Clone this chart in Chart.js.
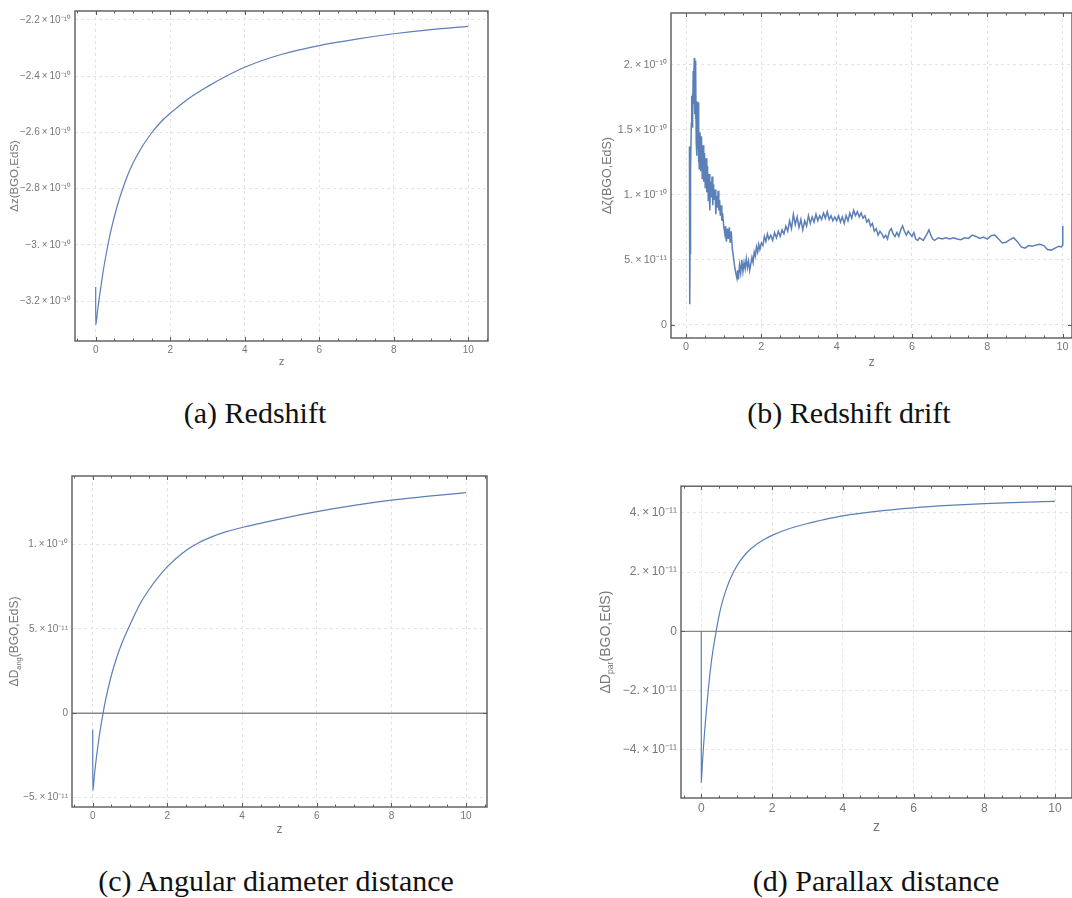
<!DOCTYPE html>
<html>
<head>
<meta charset="utf-8">
<script src="https://cdn.jsdelivr.net/npm/chart.js@4.4.1/dist/chart.umd.min.js"></script>
<style>
  body { margin: 0; background: #fff; width: 1072px; height: 898px; position: relative; overflow: hidden; }
  canvas { position: absolute; }
  .cap { position: absolute; width: 500px; text-align: center; font-family: "Liberation Serif", serif; font-size: 30px; line-height: 34px; color: #111; }
</style>
</head>
<body>
<canvas id="chartA" width="500" height="370" style="left:0px;top:0px"></canvas>
<canvas id="chartB" width="482" height="370" style="left:590px;top:0px"></canvas>
<canvas id="chartC" width="500" height="380" style="left:0px;top:465px"></canvas>
<canvas id="chartD" width="482" height="370" style="left:590px;top:475px"></canvas>

<div class="cap" style="left:5px;top:396px">(a) Redshift</div>
<div class="cap" style="left:599px;top:396px">(b) Redshift drift</div>
<div class="cap" style="left:26px;top:864px">(c) Angular diameter distance</div>
<div class="cap" style="left:626px;top:864px">(d) Parallax distance</div>

<script>
// x axis (redshift z) ticks, shared by all panels
const zTicks = [0, 2, 4, 6, 8, 10];

// (a) redshift difference, units of 1e-10
const zRed = [0, 0.001, 0.05, 0.1, 0.15, 0.2, 0.3, 0.4, 0.5, 0.6, 0.7, 0.85, 1.0, 1.25, 1.5, 1.75, 2, 2.5, 3, 3.5, 4, 5, 6, 7, 8, 9, 10];
const dRed = [-3.15, -3.285, -3.235, -3.185, -3.14, -3.095, -3.02, -2.955, -2.90, -2.852, -2.81, -2.755, -2.71, -2.65, -2.602, -2.563, -2.532, -2.479, -2.437, -2.400, -2.368, -2.322, -2.291, -2.268, -2.249, -2.234, -2.2225];
const yTicksA = [-3.2, -3.0, -2.8, -2.6, -2.4, -2.2];
const yLabelsA = ['\u22123.2\u2009\u00d7\u200910\u207b\u00b9\u2070', '\u22123.\u2009\u00d7\u200910\u207b\u00b9\u2070', '\u22122.8\u2009\u00d7\u200910\u207b\u00b9\u2070', '\u22122.6\u2009\u00d7\u200910\u207b\u00b9\u2070', '\u22122.4\u2009\u00d7\u200910\u207b\u00b9\u2070', '\u22122.2\u2009\u00d7\u200910\u207b\u00b9\u2070'];

// (b) redshift drift difference, units of 1e-10
const zDrift = [0.09, 0.095, 0.10, 0.105, 0.11, 0.115, 0.12, 0.13, 0.14, 0.15, 0.16, 0.17, 0.18, 0.19, 0.20, 0.21, 0.22, 0.23, 0.24, 0.25, 0.26, 0.27, 0.28, 0.29, 0.30, 0.31, 0.32, 0.33, 0.34, 0.35, 0.37, 0.39, 0.41, 0.43, 0.45, 0.47, 0.49, 0.51, 0.53, 0.55, 0.57, 0.59, 0.61, 0.63, 0.65, 0.67, 0.69, 0.71, 0.73, 0.75, 0.77, 0.79, 0.81, 0.83, 0.85, 0.87, 0.89, 0.91, 0.93, 0.95, 0.97, 1.00, 1.03, 1.05, 1.07, 1.10, 1.12, 1.15, 1.17, 1.20, 1.23, 1.26, 1.29, 1.32, 1.35, 1.37, 1.39, 1.42, 1.45, 1.48, 1.51, 1.54, 1.57, 1.60, 1.63, 1.66, 1.69, 1.72, 1.75, 1.78, 1.81, 1.84, 1.87, 1.90, 1.93, 1.96, 2.00, 2.04, 2.08, 2.12, 2.16, 2.20, 2.25, 2.30, 2.35, 2.40, 2.45, 2.50, 2.55, 2.60, 2.65, 2.70, 2.75, 2.80, 2.85, 2.90, 2.95, 3.00, 3.05, 3.10, 3.15, 3.20, 3.25, 3.30, 3.35, 3.40, 3.45, 3.50, 3.55, 3.60, 3.65, 3.70, 3.75, 3.80, 3.85, 3.90, 3.95, 4.00, 4.05, 4.10, 4.15, 4.20, 4.25, 4.30, 4.35, 4.40, 4.45, 4.50, 4.55, 4.60, 4.65, 4.70, 4.75, 4.80, 4.85, 4.90, 4.95, 5.00, 5.05, 5.10, 5.15, 5.20, 5.25, 5.30, 5.35, 5.40, 5.45, 5.50, 5.55, 5.60, 5.65, 5.70, 5.75, 5.80, 5.85, 5.90, 5.95, 6.00, 6.05, 6.10, 6.15, 6.20, 6.30, 6.40, 6.45, 6.50, 6.55, 6.60, 6.70, 6.80, 6.90, 7.00, 7.10, 7.20, 7.30, 7.40, 7.50, 7.60, 7.70, 7.80, 7.90, 8.00, 8.10, 8.20, 8.30, 8.40, 8.50, 8.60, 8.70, 8.80, 8.90, 9.00, 9.10, 9.20, 9.30, 9.40, 9.50, 9.60, 9.70, 9.80, 9.90, 9.97, 10.00, 10.005];
const dDrift = [1.37, 1.33, 0.16, 0.55, 1.05, 0.78, 1.30, 1.18, 1.55, 1.76, 1.52, 1.78, 1.60, 1.95, 1.70, 1.92, 2.05, 1.62, 2.03, 1.58, 1.98, 1.40, 1.72, 1.30, 1.62, 1.35, 1.71, 1.25, 1.52, 1.20, 1.48, 1.18, 1.45, 1.12, 1.38, 1.10, 1.32, 1.05, 1.28, 1.02, 1.22, 0.95, 1.16, 0.88, 1.10, 0.98, 1.14, 0.92, 1.08, 0.96, 1.04, 0.85, 0.99, 0.90, 1.03, 0.88, 0.96, 0.84, 0.92, 0.80, 0.86, 0.76, 0.70, 0.76, 0.64, 0.74, 0.66, 0.75, 0.63, 0.72, 0.58, 0.52, 0.45, 0.40, 0.36, 0.42, 0.35, 0.46, 0.40, 0.50, 0.41, 0.48, 0.43, 0.51, 0.44, 0.49, 0.42, 0.47, 0.52, 0.48, 0.56, 0.53, 0.60, 0.56, 0.62, 0.58, 0.63, 0.61, 0.68, 0.64, 0.70, 0.66, 0.69, 0.65, 0.71, 0.67, 0.72, 0.68, 0.73, 0.70, 0.76, 0.72, 0.80, 0.74, 0.85, 0.77, 0.83, 0.75, 0.81, 0.73, 0.80, 0.76, 0.84, 0.78, 0.83, 0.79, 0.85, 0.80, 0.84, 0.81, 0.86, 0.82, 0.87, 0.81, 0.84, 0.80, 0.83, 0.80, 0.84, 0.79, 0.83, 0.78, 0.84, 0.80, 0.86, 0.82, 0.88, 0.84, 0.87, 0.83, 0.86, 0.82, 0.84, 0.79, 0.81, 0.76, 0.78, 0.72, 0.74, 0.69, 0.72, 0.70, 0.67, 0.69, 0.66, 0.72, 0.74, 0.70, 0.68, 0.71, 0.68, 0.73, 0.76, 0.72, 0.69, 0.72, 0.70, 0.68, 0.71, 0.66, 0.65, 0.67, 0.65, 0.70, 0.73, 0.69, 0.66, 0.65, 0.67, 0.66, 0.67, 0.66, 0.67, 0.66, 0.655, 0.67, 0.665, 0.69, 0.68, 0.665, 0.675, 0.66, 0.685, 0.69, 0.66, 0.63, 0.635, 0.655, 0.67, 0.64, 0.60, 0.59, 0.61, 0.605, 0.615, 0.62, 0.61, 0.58, 0.575, 0.59, 0.605, 0.60, 0.615, 0.76];
const yTicksB = [0, 0.5, 1.0, 1.5, 2.0];
const yLabelsB = ['0', '5.\u2009\u00d7\u200910\u207b\u00b9\u00b9', '1.\u2009\u00d7\u200910\u207b\u00b9\u2070', '1.5\u2009\u00d7\u200910\u207b\u00b9\u2070', '2.\u2009\u00d7\u200910\u207b\u00b9\u2070'];

// (c) angular diameter distance difference, units of 1e-10
const zAng = [0, 0.001, 0.05, 0.1, 0.15, 0.2, 0.277, 0.35, 0.5, 0.65, 0.8, 0.95, 1.1, 1.3, 1.5, 1.75, 2, 2.4, 2.8, 3.2, 3.6, 4, 5, 6, 7, 8, 9, 10];
const dAng = [-0.097, -0.46, -0.355, -0.26, -0.175, -0.10, 0, 0.085, 0.225, 0.335, 0.425, 0.50, 0.573, 0.66, 0.73, 0.805, 0.868, 0.948, 1.005, 1.046, 1.077, 1.10, 1.15, 1.194, 1.231, 1.262, 1.286, 1.306];
const yTicksC = [-0.5, 0, 0.5, 1.0];
const yLabelsC = ['\u22125.\u2009\u00d7\u200910\u207b\u00b9\u00b9', '0', '5.\u2009\u00d7\u200910\u207b\u00b9\u00b9', '1.\u2009\u00d7\u200910\u207b\u00b9\u2070'];

// (d) parallax distance difference, units of 1e-11
const zPar = [0, 0.001, 0.03, 0.06, 0.1, 0.15, 0.2, 0.3, 0.42, 0.55, 0.7, 0.91, 1.1, 1.3, 1.5, 1.75, 2, 2.5, 3, 3.5, 4, 5, 6, 7, 8, 9, 10];
const dPar = [0, -5.1, -4.5, -3.95, -3.3, -2.6, -1.95, -0.9, 0, 0.78, 1.4, 2.0, 2.38, 2.67, 2.88, 3.08, 3.24, 3.47, 3.64, 3.78, 3.90, 4.06, 4.17, 4.25, 4.31, 4.355, 4.39];
const yTicksD = [-4, -2, 0, 2, 4];
const yLabelsD = ['\u22124.\u2009\u00d7\u200910\u207b\u00b9\u00b9', '\u22122.\u2009\u00d7\u200910\u207b\u00b9\u00b9', '0', '2.\u2009\u00d7\u200910\u207b\u00b9\u00b9', '4.\u2009\u00d7\u200910\u207b\u00b9\u00b9'];


const lineColor = '#5b7fb7';
const frameColor = '#5a5a5a';
const labelColor = '#777777';
const fontFamily = '"Liberation Sans", Arial, sans-serif';

// Mathematica-like frame with inward ticks, zero line and axis titles
const framePlugin = {
    id: 'frame',
    beforeDatasetsDraw(chart, args, opts) {
        if (!opts.zeroLine) return;
        const ctx = chart.ctx, a = chart.chartArea;
        const y0 = chart.scales.y.getPixelForValue(0);
        ctx.save();
        ctx.strokeStyle = '#888888';
        ctx.lineWidth = 1.3;
        ctx.beginPath();
        ctx.moveTo(a.left, y0);
        ctx.lineTo(a.right, y0);
        ctx.stroke();
        ctx.restore();
    },
    afterDraw(chart, args, opts) {
        const ctx = chart.ctx, a = chart.chartArea;
        const xs = chart.scales.x, ys = chart.scales.y;
        ctx.save();
        ctx.strokeStyle = frameColor;
        ctx.lineWidth = 1;

        // ticks on all four sides
        ctx.beginPath();
        for (let v = Math.ceil(xs.min / 0.5) * 0.5; v <= xs.max; v += 0.5) {
            const px = Math.round(xs.getPixelForValue(v)) + 0.5;
            const major = Math.abs(v / 2 - Math.round(v / 2)) < 1e-6;
            const len = major ? 4 : 2.5;
            ctx.moveTo(px, a.bottom); ctx.lineTo(px, a.bottom - len);
            ctx.moveTo(px, a.top); ctx.lineTo(px, a.top + len);
        }
        const st = opts.yMinor, mj = opts.yMajor;
        for (let k = Math.ceil(ys.min / st - 1e-6); k * st <= ys.max; k++) {
            const v = k * st;
            const py = Math.round(ys.getPixelForValue(v)) + 0.5;
            const major = Math.abs(v / mj - Math.round(v / mj)) < 1e-6;
            const len = major ? 4 : 2.5;
            ctx.moveTo(a.left, py); ctx.lineTo(a.left + len, py);
            ctx.moveTo(a.right, py); ctx.lineTo(a.right - len, py);
        }
        ctx.stroke();

        // frame
        ctx.lineWidth = 1.4;
        ctx.strokeRect(a.left, a.top, a.right - a.left, a.bottom - a.top);

        // axis titles
        const fs = opts.titleSize;
        ctx.fillStyle = labelColor;
        ctx.font = fs + 'px ' + fontFamily;
        ctx.textAlign = 'center';
        ctx.textBaseline = 'middle';
        ctx.fillText('z', (a.left + a.right) / 2, a.bottom + opts.xTitleGap);

        ctx.translate(opts.yTitleX, (a.top + a.bottom) / 2);
        ctx.rotate(-Math.PI / 2);
        const parts = opts.yTitle;
        ctx.textAlign = 'left';
        let total = 0;
        parts.forEach(p => {
            ctx.font = (p.sub ? fs * 0.62 : fs) + 'px ' + fontFamily;
            total += ctx.measureText(p.t).width;
        });
        let x = -total / 2;
        parts.forEach(p => {
            ctx.font = (p.sub ? fs * 0.62 : fs) + 'px ' + fontFamily;
            ctx.fillText(p.t, x, p.sub ? fs * 0.3 : 0);
            x += ctx.measureText(p.t).width;
        });
        ctx.restore();
    }
};


function makeChart(id, c) {
    const points = c.zs.map((z, i) => ({ x: z, y: c.vals[i] * c.unit }));
    const font = { family: fontFamily, size: c.fontSize };
    return new Chart(document.getElementById(id), {
        type: 'line',
        data: {
            datasets: [{
                data: points,
                borderColor: lineColor,
                borderWidth: c.lineWidth,
                pointRadius: 0,
                fill: false,
                tension: c.smooth ? 0.4 : 0,
                cubicInterpolationMode: c.smooth ? 'monotone' : 'default'
            }]
        },
        options: {
            responsive: false,
            animation: false,
            devicePixelRatio: 1,
            layout: { padding: { left: 0, top: c.padTop, right: c.padRight, bottom: 0 } },
            plugins: {
                legend: { display: false },
                tooltip: { enabled: false },
                frame: {
                    zeroLine: c.zeroLine, yMinor: c.yMinor, yMajor: c.yMajor,
                    titleSize: c.titleSize, xTitleGap: c.xTitleGap, yTitleX: c.yTitleX, yTitle: c.yTitle
                }
            },
            scales: {
                x: {
                    type: 'linear', min: c.xMin, max: c.xMax,
                    afterBuildTicks: s => { s.ticks = zTicks.map(v => ({ value: v })); },
                    afterFit: s => { s.height = c.xHeight; },
                    ticks: { color: labelColor, font: font, padding: 3, maxRotation: 0, autoSkip: false,
                        callback: v => String(v) },
                    grid: { color: '#e4e4e4', lineWidth: 1, drawTicks: false },
                    border: { display: false, dash: [3, 3] }
                },
                y: {
                    type: 'linear', min: c.yMin * c.unit, max: c.yMax * c.unit,
                    afterBuildTicks: s => { s.ticks = c.yTicks.map(v => ({ value: v * c.unit })); },
                    afterFit: s => { s.width = c.yWidth; },
                    ticks: { color: labelColor, font: font, padding: 4, autoSkip: false,
                        callback: (v, i) => c.yLabels[i] },
                    grid: { color: '#e4e4e4', lineWidth: 1, drawTicks: false },
                    border: { display: false, dash: [3, 3] }
                }
            }
        },
        plugins: [framePlugin]
    });
}


makeChart('chartA', {
    zs: zRed, vals: dRed, unit: 1e-10, smooth: true, lineWidth: 1.2,
    xMin: -0.555, xMax: 10.53, yMin: -3.342, yMax: -2.168,
    yTicks: yTicksA, yLabels: yLabelsA, yMinor: 0.04, yMajor: 0.2,
    padTop: 11, padRight: 12, yWidth: 75, xHeight: 29, fontSize: 10, titleSize: 11.5,
    xTitleGap: 21, yTitleX: 15, zeroLine: false,
    yTitle: [{ t: '\u0394z(BGO,EdS)' }]
});

makeChart('chartB', {
    zs: zDrift, vals: dDrift, unit: 1e-10, smooth: false, lineWidth: 1.5,
    xMin: -0.4, xMax: 10.25, yMin: -0.1, yMax: 2.396,
    yTicks: yTicksB, yLabels: yLabelsB, yMinor: 0.1, yMajor: 0.5,
    padTop: 13, padRight: 0, yWidth: 81, xHeight: 32, fontSize: 10.8, titleSize: 12.5,
    xTitleGap: 25, yTitleX: 18, zeroLine: false,
    yTitle: [{ t: '\u0394\u03b6(BGO,EdS)' }]
});

makeChart('chartC', {
    zs: zAng, vals: dAng, unit: 1e-10, smooth: true, lineWidth: 1.2,
    xMin: -0.555, xMax: 10.56, yMin: -0.555, yMax: 1.405,
    yTicks: yTicksC, yLabels: yLabelsC, yMinor: 0.1, yMajor: 0.5,
    padTop: 11, padRight: 13, yWidth: 72, xHeight: 38, fontSize: 10, titleSize: 12,
    xTitleGap: 23, yTitleX: 15, zeroLine: true,
    yTitle: [{ t: '\u0394D' }, { t: 'ang', sub: true }, { t: '(BGO,EdS)' }]
});

makeChart('chartD', {
    zs: zPar, vals: dPar, unit: 1e-11, smooth: true, lineWidth: 1.2,
    xMin: -0.573, xMax: 10.48, yMin: -5.63, yMax: 4.9,
    yTicks: yTicksD, yLabels: yLabelsD, yMinor: 0.5, yMajor: 2,
    padTop: 9, padRight: 0, yWidth: 91, xHeight: 47, fontSize: 12, titleSize: 14,
    xTitleGap: 29, yTitleX: 16, zeroLine: true,
    yTitle: [{ t: '\u0394D' }, { t: 'par', sub: true }, { t: '(BGO,EdS)' }]
});
</script>
</body>
</html>
